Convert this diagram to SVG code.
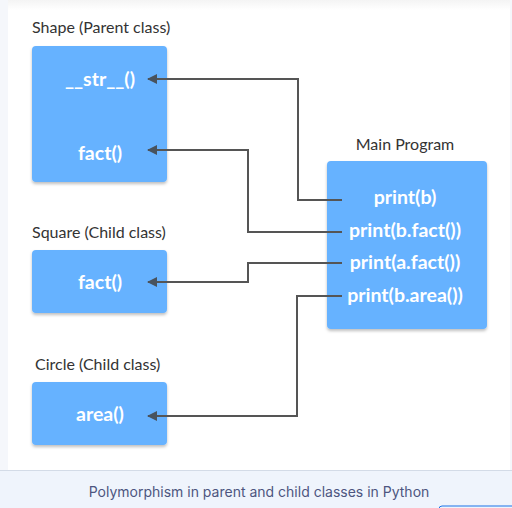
<svg xmlns="http://www.w3.org/2000/svg" width="512" height="508" viewBox="0 0 512 508">
<defs>
<style>
.box{fill:#66b2ff;filter:url(#sh)}
.bt{font-family:Lato,"Open Sans",sans-serif;font-weight:bold;font-size:19.5px;fill:#fff;text-anchor:middle}
.lb{font-family:Lato,"Open Sans",sans-serif;font-size:16px;fill:#333}
.cn{fill:none;stroke:#555;stroke-width:2;marker-end:url(#ah)}
</style>
<filter id="sh" x="-10%" y="-10%" width="120%" height="130%">
<feDropShadow dx="0" dy="2" stdDeviation="1.5" flood-color="#000" flood-opacity="0.25"/>
</filter>
<marker id="ah" viewBox="0 0 10 10" refX="9" refY="5" markerWidth="5" markerHeight="5" orient="auto" markerUnits="strokeWidth">
<path d="M0,0L10,5L0,10z" fill="#48535e"/>
</marker>
<linearGradient id="tg" x1="0" y1="0" x2="0" y2="1">
<stop offset="0" stop-color="#f4f4f4"/>
<stop offset="1" stop-color="#fff"/>
</linearGradient>
</defs>
<rect x="0" y="0" width="512" height="508" fill="#f5f7fb"/>
<rect x="8" y="0" width="502" height="470" fill="#fff"/>
<rect x="8" y="0" width="502" height="10" fill="url(#tg)"/>
<rect x="0" y="470" width="512" height="38" fill="#eff4fc"/>
<line x1="0" y1="470.5" x2="512" y2="470.5" stroke="#d3dbe7" stroke-width="1"/>
<rect x="439" y="506" width="80" height="10" rx="3" fill="none" stroke="#1a73e8" stroke-width="1"/>

<g id="shape">
<text class="lb" x="32" y="33">Shape (Parent class)</text>
<rect class="box" x="32" y="46" width="135" height="136" rx="4"/>
<text class="bt" x="100" y="86">__str__()</text>
<text class="bt" x="100" y="160">fact()</text>
</g>
<g id="square">
<text class="lb" x="32" y="238">Square (Child class)</text>
<rect class="box" x="32" y="250" width="135" height="63" rx="4"/>
<text class="bt" x="100" y="289">fact()</text>
</g>
<g id="circle">
<text class="lb" x="35" y="370">Circle (Child class)</text>
<rect class="box" x="32" y="382" width="135" height="63" rx="4"/>
<text class="bt" x="100" y="421">area()</text>
</g>
<g id="main">
<text class="lb" x="405" y="150" text-anchor="middle">Main Program</text>
<rect class="box" x="327" y="161" width="160" height="168" rx="4"/>
<text class="bt" x="405" y="204">print(b)</text>
<text class="bt" x="405" y="237">print(b.fact())</text>
<text class="bt" x="405" y="269">print(a.fact())</text>
<text class="bt" x="405" y="302">print(b.area())</text>
</g>
<g id="connectors">
<polyline class="cn" points="342,200 298,200 298,79 148,79"/>
<polyline class="cn" points="342,232 248,232 248,150 148,150"/>
<polyline class="cn" points="342,263 248,263 248,282 148,282"/>
<polyline class="cn" points="342,296 297,296 297,416 148,416"/>
</g>
<text x="259" y="497" text-anchor="middle" font-family="Inter,'Open Sans',sans-serif" font-size="14" fill="#4d5680">Polymorphism in parent and child classes in Python</text>
</svg>
